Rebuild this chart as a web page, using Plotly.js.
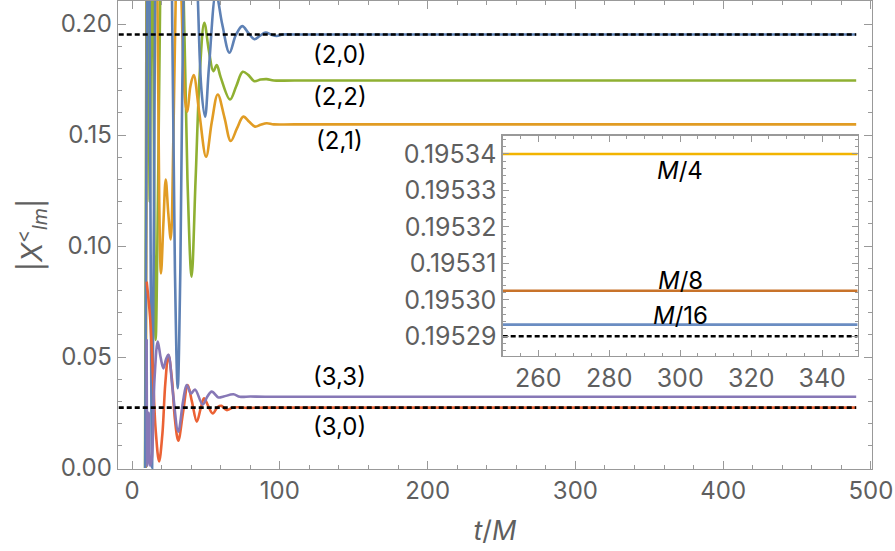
<!DOCTYPE html>
<html>
<head>
<meta charset="utf-8">
<script src="https://cdn.plot.ly/plotly-3.0.1.min.js"></script>
<style>html,body{margin:0;padding:0;background:#fff;}#chart{width:895px;height:551px;}</style>
</head>
<body>
<div id="chart"></div>
<script>
// ---- main panel data (t/M, |X_lm|) ----
const t20 = [8.9,10.2,11.0,11.8,13.6,15.5,17,21,25,27.2,29,30.9,32.7,34.8,39.5,44.6,47,49.4,52,56.8,61,65.9,70.2,74.6,78.7,82.8,86.6,90.4,94,97.9,102,110,490];
const v20 = [0.0,0.22,0.3,0.22,0.0,0.2,0.35,0.5,0.35,0.2,0.09,0.0359,0.09,0.21,0.33,0.21,0.17,0.1583,0.18,0.214,0.2,0.1871,0.195,0.1991,0.196,0.1932,0.1948,0.1962,0.1953,0.1946,0.1953,0.1953,0.1953];

const t22 = [8.8,9.8,10.5,11.2,12.0,12.8,13.5,14.3,16.0,17.5,19.0,27,35,37.5,40.3,43,46,48.9,52,55,57.3,60,66.3,70.5,74.9,78.8,82.7,87,91.1,96,110,490];
const v22 = [0.0,0.22,0.28,0.2,0.12,0.2,0.26,0.2,0.0577,0.12,0.21,0.45,0.21,0.13,0.0862,0.13,0.18,0.2006,0.188,0.1788,0.1815,0.176,0.166,0.172,0.1785,0.177,0.1743,0.175,0.1752,0.1746,0.1746,0.1746];

const t21 = [9.3,10.0,12,15,17.2,18.4,19.6,21.2,22.8,24.5,26.2,28,29.5,31.5,33.5,36,37.4,39.5,41.7,45.5,50.1,54,58,62.5,66.8,71,75.3,79.3,83.2,87,91.1,96,110,490];
const v21 = [0.0,0.21,0.5,0.4,0.21,0.12,0.0877,0.11,0.130,0.115,0.103,0.15,0.21,0.27,0.21,0.165,0.1605,0.172,0.177,0.16,0.1402,0.156,0.1683,0.158,0.1473,0.153,0.1583,0.156,0.1538,0.1546,0.1553,0.1548,0.1548,0.1548];

const t30 = [9.9,12.2,14.4,16.0,18.3,20.5,22.5,24.6,27,29,31.3,34.5,37.7,40.5,43.8,46.5,48.7,51.5,54.6,58,60.5,64,68,72,78,90,490];
const v30 = [0.084,0.068,0.038,0.017,0.003,0.015,0.038,0.0509,0.04,0.022,0.0123,0.025,0.0374,0.03,0.0209,0.027,0.0314,0.028,0.0246,0.0275,0.028,0.0261,0.0272,0.0274,0.0271,0.0272,0.0272];

const t33 = [9.9,10.4,11.3,12.2,13.3,15.2,17.4,19.3,21.2,23,24.6,27.5,31.3,34.5,37,39.9,42.6,47.8,50.8,53.9,58.4,62,68.6,73,80,90,490];
const v33 = [0.058,0.001,0.025,0.001,0.004,0.04,0.057,0.05,0.0449,0.049,0.051,0.035,0.0164,0.03,0.0374,0.0336,0.0354,0.0286,0.032,0.0344,0.0318,0.0322,0.0332,0.0321,0.0322,0.0321,0.0321];

// reference (dashed) levels
const tRef = [-9, 490];
const ref20 = [0.19529, 0.19529];
const ref30 = [0.0272, 0.0272];

// ---- inset data ----
const tInset = [250, 350];
const insetM4 = [0.19534, 0.19534];
const insetM8 = [0.1953025, 0.1953025];
const insetM16 = [0.1952932, 0.1952932];
const insetRef = [0.19529, 0.19529];

const mainLabels = ['(2,0)', '(2,2)', '(2,1)', '(3,3)', '(3,0)'];
const mainLabelY = [0.1864, 0.1673, 0.1477, 0.0411, 0.0186];
const insetLabels = ['<i>M</i>/4', '<i>M</i>/8', '<i>M</i>/16'];
const insetLabelY = [0.1953355, 0.1953053, 0.1952958];

const C = {blue:'#5E81B5', orange:'#E19C24', green:'#8FB032', red:'#EB6235', purple:'#8778B6'};
const LW = 2.6;
function curve(x, y, color) {
  return {x:x, y:y, type:'scatter', mode:'lines', line:{color:color, width:LW, shape:'spline', smoothing:1}, hoverinfo:'skip', showlegend:false, xaxis:'x', yaxis:'y'};
}
function flat(x, y, color, dash, ax) {
  return {x:x, y:y, type:'scatter', mode:'lines', line:{color:color, width:2.6, dash:dash}, hoverinfo:'skip', showlegend:false, xaxis:ax[0], yaxis:ax[1]};
}

const data = [
  curve(t22, v22, C.green),
  curve(t21, v21, C.orange),
  curve(t20, v20, C.blue),
  curve(t30, v30, C.red),
  curve(t33, v33, C.purple),
  flat(tRef, ref20, '#000', '5px,3px', ['x','y']),
  flat(tRef, ref30, '#000', '5px,3px', ['x','y']),
  flat(tInset, insetM4, '#F2B400', 'solid', ['x2','y2']),
  flat(tInset, insetM8, '#C8732A', 'solid', ['x2','y2']),
  flat(tInset, insetM16, '#6A8DC2', 'solid', ['x2','y2']),
  flat(tInset, insetRef, '#000', '5px,3px', ['x2','y2'])
];

const FONT = 'Inter, Liberation Sans, Arial, sans-serif';
const tickFont = {family:FONT, size:24, color:'#5f5f5f'};
const insetTickFont = {family:FONT, size:25, color:'#5f5f5f'};
const frame = '#999999';

const annotations = [];
mainLabels.forEach((s, i) => annotations.push({x:140.4, y:mainLabelY[i], xref:'x', yref:'y', text:s, showarrow:false, font:{family:FONT, size:24, color:'#000'}}));
insetLabels.forEach((s, i) => annotations.push({x:300, y:insetLabelY[i], xref:'x2', yref:'y2', text:s, showarrow:false, font:{family:FONT, size:24, color:'#000'}}));

const layout = {
  width:895, height:551,
  margin:{l:118, r:23, t:1, b:82},
  paper_bgcolor:'#fff', plot_bgcolor:'#fff',
  showlegend:false,
  xaxis:{domain:[0,1], range:[-9.5,500.7], tickvals:[0,100,200,300,400,500], ticks:'inside', ticklen:8, tickcolor:frame, tickwidth:1,
    minor:{dtick:20, tick0:0, ticks:'inside', ticklen:4, tickcolor:frame},
    showline:true, linecolor:frame, linewidth:1.3, mirror:'allticks', showgrid:false, zeroline:false, tickfont:tickFont,
    title:{text:'<i>t</i>/<i>M</i>', font:{family:FONT, size:27, color:'#5f5f5f'}, standoff:17}},
  yaxis:{domain:[0,1], range:[-0.00045,0.2104], tickvals:[0,0.05,0.1,0.15,0.2], ticktext:['0.00','0.05','0.10','0.15','0.20'], ticks:'inside', ticklen:8, tickcolor:frame,
    minor:{dtick:0.01, tick0:0, ticks:'inside', ticklen:4, tickcolor:frame},
    showline:true, linecolor:frame, linewidth:1.3, mirror:'allticks', showgrid:false, zeroline:false, tickfont:tickFont,
    title:{text:'|<i>X</i><sup>&lt;</sup><sub><i>lm</i></sub>|', font:{family:FONT, size:28, color:'#5f5f5f'}, standoff:10}},
  xaxis2:{domain:[0.5102,0.981], anchor:'y2', range:[250,350], tickvals:[260,280,300,320,340], ticks:'inside', ticklen:6, tickcolor:frame,
    minor:{dtick:5, tick0:250, ticks:'inside', ticklen:3, tickcolor:frame},
    showline:true, linecolor:frame, linewidth:1.3, mirror:'allticks', showgrid:false, zeroline:false, tickfont:insetTickFont},
  yaxis2:{domain:[0.2415,0.7122], anchor:'x2', range:[0.1952846,0.195345], tickvals:[0.19529,0.19530,0.19531,0.19532,0.19533,0.19534], ticktext:['0.19529','0.19530','0.19531','0.19532','0.19533','0.19534'], ticks:'inside', ticklen:6, tickcolor:frame,
    minor:{dtick:0.000002, tick0:0.19529, ticks:'inside', ticklen:3, tickcolor:frame},
    showline:true, linecolor:frame, linewidth:1.3, mirror:'allticks', showgrid:false, zeroline:false, tickfont:insetTickFont},
  annotations:annotations
};

Plotly.newPlot('chart', data, layout, {displayModeBar:false, staticPlot:true});
</script>
</body>
</html>
